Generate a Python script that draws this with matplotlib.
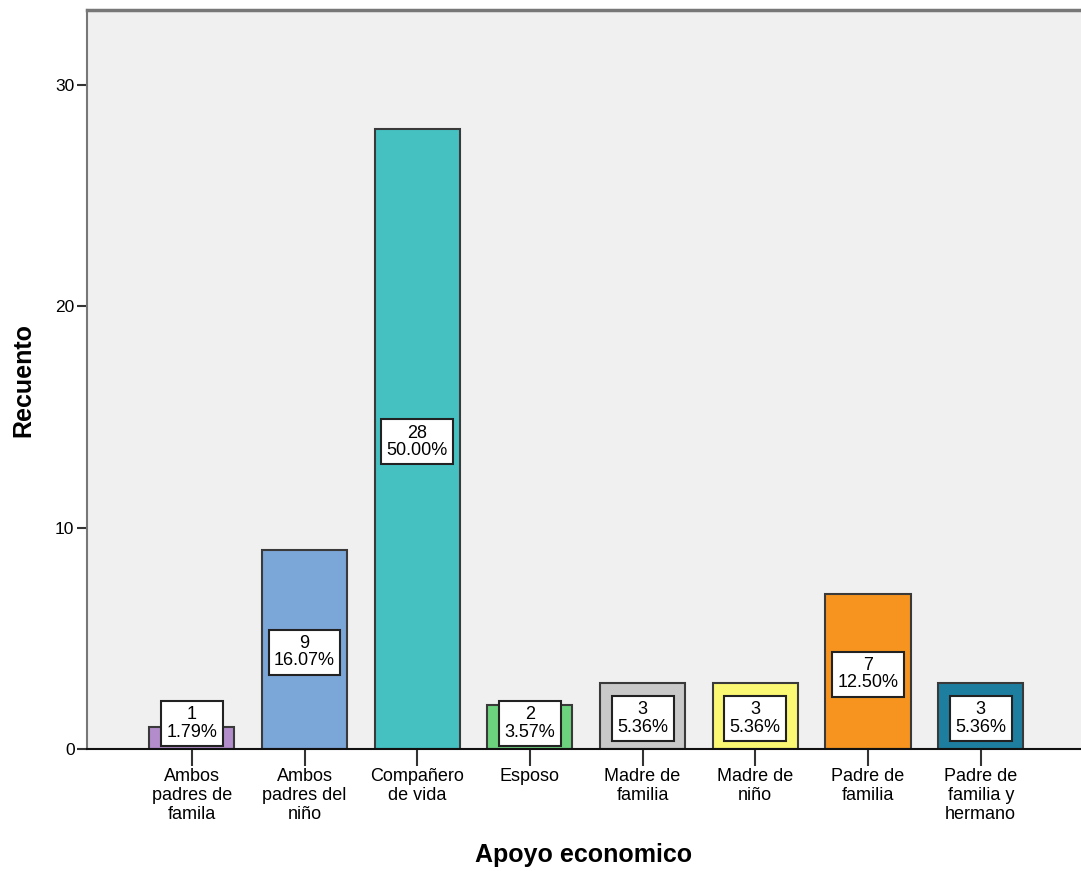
import matplotlib.pyplot as plt

categorias = ["Ambos\npadres de\nfamila", "Ambos\npadres del\nniño", "Compañero\nde vida",
              "Esposo", "Madre de\nfamilia", "Madre de\nniño", "Padre de\nfamilia",
              "Padre de\nfamilia y\nhermano"]
recuento = [1, 9, 28, 2, 3, 3, 7, 3]
porcentaje = [1.79, 16.07, 50.00, 3.57, 5.36, 5.36, 12.50, 5.36]
colores = ["#b28ccb", "#7ba6d8", "#45c1c2", "#6dd27e", "#c9c9c9", "#fbf873", "#f6941f", "#1e7ea0"]

plt.rcParams['font.family'] = ['Liberation Sans', 'DejaVu Sans']

fig = plt.figure(figsize=(10.81, 8.71), dpi=100)
ax = fig.add_axes([87 / 1081, 1 - 749 / 871, 1 - 87 / 1081, (749 - 10) / 871])
ax.set_facecolor("#f0f0f0")

x = list(range(len(categorias)))
ax.bar(x, recuento, width=0.755, color=colores, edgecolor="#3a3a3a", linewidth=1.5, zorder=2)

# etiquetas con recuento y porcentaje
for i, (v, p) in enumerate(zip(recuento, porcentaje)):
    y = max(v / 2 - 0.12, 1.15)
    ax.text(i, y, f"{v}\n{p:.2f}%", ha="center", va="center", fontsize=13,
            linespacing=1.02, zorder=3,
            bbox=dict(boxstyle="square,pad=0.3", facecolor="white", edgecolor="#222222", linewidth=1.5))

ax.set_xlim(-0.93, 7.89)
ax.set_ylim(0, 33.4)
ax.set_yticks([0, 10, 20, 30])
ax.set_xticks(x)
ax.set_xticklabels(categorias, fontsize=13, linespacing=1.12)
ax.tick_params(axis="x", length=12, width=1.5, color="#333333", pad=2)
ax.tick_params(axis="y", length=7, width=1.5, color="#333333", labelsize=12.5, pad=2)

ax.spines["right"].set_visible(False)
ax.spines["top"].set_color("#777777")
ax.spines["top"].set_linewidth(2.5)
ax.spines["left"].set_color("#777777")
ax.spines["left"].set_linewidth(1.5)
ax.spines["bottom"].set_color("#111111")
ax.spines["bottom"].set_linewidth(1.5)

ax.set_ylabel("Recuento", fontsize=18, fontweight="bold", va="center")
ax.yaxis.set_label_coords(-64 / 994, 0.5)
ax.set_xlabel("Apoyo economico", fontsize=18, fontweight="bold", va="center")
ax.xaxis.set_label_coords(0.5, -106 / 739)

fig.savefig("out.png", dpi=100)
